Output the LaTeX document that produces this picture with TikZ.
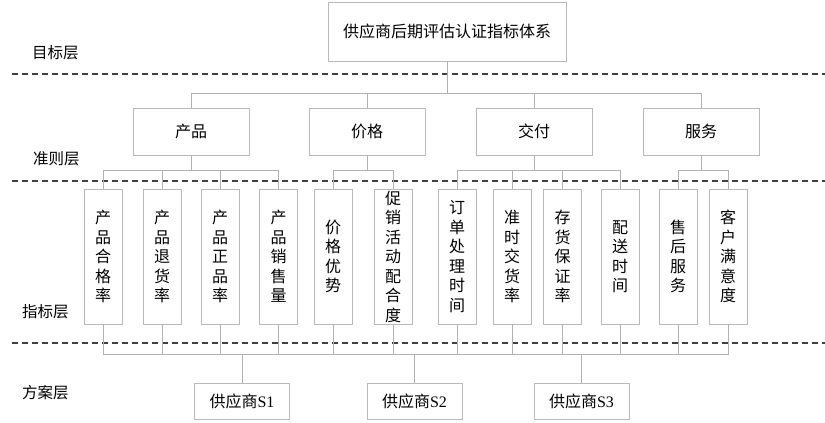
\documentclass[tikz,border=0pt]{standalone}
\usepackage{fontspec}
\setmainfont{Liberation Serif}
\newfontfamily\cjk{Noto Sans CJK SC}
\begin{document}
\begin{tikzpicture}[x=1bp,y=-1bp,
  box/.style={draw=gray!55, line width=0.8bp, inner sep=0pt, align=center,
    font=\cjk\fontsize{16bp}{19.5bp}\selectfont},
  topbox/.style={box, minimum width=238bp, minimum height=59bp},
  critbox/.style={box, minimum width=116bp, minimum height=47bp},
  leafbox/.style={box, minimum width=38bp, minimum height=135bp},
  solbox/.style={box, minimum width=95bp, minimum height=36bp},
  conn/.style={draw=gray!60, line width=0.8bp},
  layer/.style={draw=black!75, line width=1.6bp, dash pattern=on 6bp off 4bp},
  lbl/.style={anchor=west, inner sep=0pt, font=\cjk\fontsize{15.5bp}{18bp}\selectfont}
]
\useasboundingbox (0,0) rectangle (825,422);

% layer separators
\coordinate (d1a) at (12,74);  \coordinate (d1b) at (825,74);
\coordinate (d2a) at (12,181); \coordinate (d2b) at (825,181);
\coordinate (d3a) at (12,343); \coordinate (d3b) at (825,343);
\draw[layer] (d1a) -- (d1b);
\draw[layer] (d2a) -- (d2b);
\draw[layer] (d3a) -- (d3b);

% layer labels
\node[lbl] (l1) at (32,53) {目标层};
\node[lbl] (l2) at (33,159) {准则层};
\node[lbl] (l3) at (22,312) {指标层};
\node[lbl] (l4) at (22,393) {方案层};

% goal
\node[topbox] (top) at (447,31.5) {供应商后期评估认证指标体系};

% criteria
\node[critbox] (c1) at (191,131.5) {产品};
\node[critbox] (c2) at (367,131.5) {价格};
\node[critbox] (c3) at (534,131.5) {交付};
\node[critbox] (c4) at (701,131.5) {服务};

% indicators
\node[leafbox] (i1) at (103,256.5) {产\\品\\合\\格\\率};
\node[leafbox] (i2) at (162,256.5) {产\\品\\退\\货\\率};
\node[leafbox] (i3) at (220,256.5) {产\\品\\正\\品\\率};
\node[leafbox] (i4) at (278.5,256.5) {产\\品\\销\\售\\量};
\node[leafbox] (i5) at (333,256.5) {价\\格\\优\\势};
\node[leafbox] (i6) at (393,256.5) {促\\销\\活\\动\\配\\合\\度};
\node[leafbox] (i7) at (457,256.5) {订\\单\\处\\理\\时\\间};
\node[leafbox] (i8) at (512,256.5) {准\\时\\交\\货\\率};
\node[leafbox] (i9) at (562.5,256.5) {存\\货\\保\\证\\率};
\node[leafbox] (i10) at (620,256.5) {配\\送\\时\\间};
\node[leafbox] (i11) at (678,256.5) {售\\后\\服\\务};
\node[leafbox] (i12) at (728,256.5) {客\\户\\满\\意\\度};

% alternatives
\node[solbox] (s1) at (242,401) {供应商{\rmfamily S1}};
\node[solbox] (s2) at (414.5,401) {供应商{\rmfamily S2}};
\node[solbox] (s3) at (581.5,401) {供应商{\rmfamily S3}};

% buses
\coordinate (b0) at (447,93);
\coordinate (g1) at (191,170);
\coordinate (g2) at (367,170);
\coordinate (g3) at (534,170);
\coordinate (g4) at (701,170);
\coordinate (bb) at (415,354);

% goal -> criteria
\draw[conn] (top.south) -- (b0);
\foreach \c in {c1,c2,c3,c4} \draw[conn] (\c.north) |- (b0);

% criteria -> indicators
\draw[conn] (c1.south) -- (g1);
\draw[conn] (c2.south) -- (g2);
\draw[conn] (c3.south) -- (g3);
\draw[conn] (c4.south) -- (g4);
\foreach \i in {i1,i2,i3,i4} \draw[conn] (\i.north) |- (g1);
\foreach \i in {i5,i6} \draw[conn] (\i.north) |- (g2);
\foreach \i in {i7,i8,i9,i10} \draw[conn] (\i.north) |- (g3);
\foreach \i in {i11,i12} \draw[conn] (\i.north) |- (g4);

% indicators -> alternatives
\foreach \i in {i1,i2,i3,i4,i5,i6,i7,i8,i9,i10,i11,i12} \draw[conn] (\i.south) |- (bb);
\foreach \s in {s1,s2,s3} \draw[conn] (\s.north) |- (bb);
\end{tikzpicture}
\end{document}
